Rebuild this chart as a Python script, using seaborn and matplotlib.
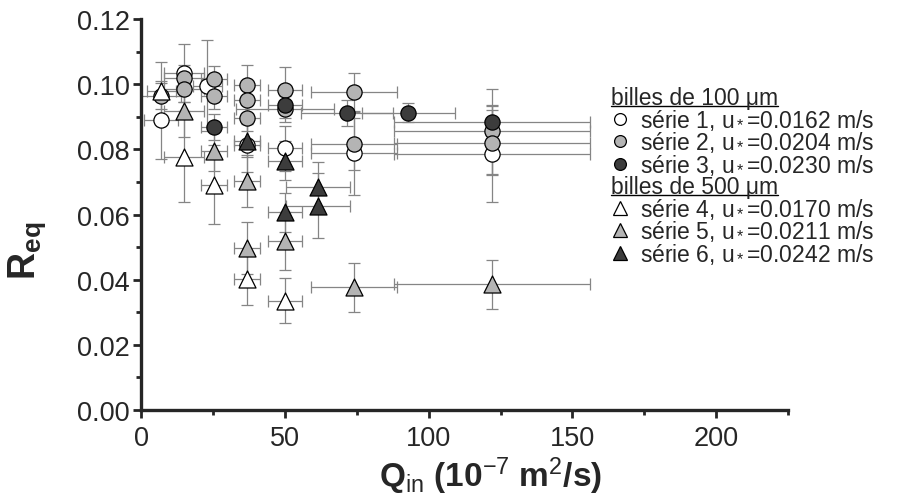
import numpy as np
import pandas as pd
import matplotlib
matplotlib.use("Agg")
import matplotlib.pyplot as plt
import seaborn as sns
from matplotlib.lines import Line2D

# serie 1-3 : billes de 100 um (cercles), serie 4-6 : billes de 500 um (triangles)
s1_q = [7, 15, 23, 37, 50, 74, 122]
s1_r = [0.089, 0.1035, 0.0995, 0.0812, 0.0803, 0.0789, 0.0787]
s1_xerr = [6, 7, 5, 4.5, 6, 15, 34]
s1_yerr = [0.012, 0.009, 0.014, 0.008, 0.007, 0.013, 0.0147]

s2_q = [7, 15, 15, 25.5, 25.5, 37, 37, 37, 50, 50, 74, 74, 122, 122]
s2_r = [0.0965, 0.102, 0.0986, 0.1017, 0.0965, 0.0999, 0.0953, 0.0897, 0.0983, 0.0925, 0.0975, 0.0817, 0.0855, 0.0821]
s2_xerr = [7, 7, 7, 4.5, 4.5, 4.5, 4.5, 4.5, 6, 17, 15, 15, 34, 34]
s2_yerr = [0.004, 0.004, 0.004, 0.004, 0.004, 0.006, 0.004, 0.004, 0.007, 0.004, 0.006, 0.008, 0.013, 0.010]

s3_q = [25.5, 50, 71.5, 93, 122]
s3_r = [0.0869, 0.0937, 0.0913, 0.0913, 0.0885]
s3_xerr = [4.5, 6, 16, 16, 34]
s3_yerr = [0.004, 0.004, 0.004, 0.003, 0.005]

s4_q = [7, 15, 25.5, 37, 50]
s4_r = [0.0978, 0.0778, 0.0692, 0.0401, 0.0336]
s4_xerr = [5, 7, 4.5, 4.5, 6]
s4_yerr = [0.009, 0.014, 0.012, 0.008, 0.007]

s5_q = [15, 25.5, 37, 37, 50, 74, 122]
s5_r = [0.0918, 0.0795, 0.0703, 0.0497, 0.0519, 0.0377, 0.0386]
s5_xerr = [7, 4.5, 4.5, 4.5, 6, 15, 34]
s5_yerr = [0.008, 0.006, 0.008, 0.008, 0.009, 0.0075, 0.0075]

s6_q = [37, 50, 50, 61.5, 61.5]
s6_r = [0.0827, 0.0765, 0.0607, 0.0685, 0.0627]
s6_xerr = [4.5, 6, 6, 11, 11]
s6_yerr = [0.005, 0.006, 0.006, 0.0075, 0.01]

labels = ["série 1, u$_*$=0.0162 m/s", "série 2, u$_*$=0.0204 m/s", "série 3, u$_*$=0.0230 m/s",
          "série 4, u$_*$=0.0170 m/s", "série 5, u$_*$=0.0211 m/s", "série 6, u$_*$=0.0242 m/s"]
headers = ["billes de 100 μm", "billes de 500 μm"]

sns.set_style("ticks")
plt.rcParams["font.family"] = ["Liberation Sans", "DejaVu Sans"]
plt.rcParams["mathtext.fontset"] = "custom"
plt.rcParams["mathtext.rm"] = "Liberation Sans"
plt.rcParams["mathtext.bf"] = "Liberation Sans:bold"
plt.rcParams["mathtext.it"] = "Liberation Sans:italic"

series = [
    (s1_q, s1_r, s1_xerr, s1_yerr, "o", "white"),
    (s2_q, s2_r, s2_xerr, s2_yerr, "o", "#b4b4b4"),
    (s3_q, s3_r, s3_xerr, s3_yerr, "o", "#3c3c3c"),
    (s4_q, s4_r, s4_xerr, s4_yerr, "^", "white"),
    (s5_q, s5_r, s5_xerr, s5_yerr, "^", "#b4b4b4"),
    (s6_q, s6_r, s6_xerr, s6_yerr, "^", "#3c3c3c"),
]

fig = plt.figure(figsize=(9.08, 5.02), dpi=100)
ax = fig.add_axes([0.1553, 0.1813, 0.7127, 0.7787])

for q, r, xe, ye, m, c in series:
    ax.errorbar(q, r, xerr=xe, yerr=ye, fmt="none", ecolor="#858585",
                elinewidth=0.9, capsize=4, capthick=0.9, zorder=1)

for i, (q, r, xe, ye, m, c) in enumerate(series):
    df = pd.DataFrame({"Q": q, "R": r})
    sns.scatterplot(data=df, x="Q", y="R", marker=m, color=c, edgecolor="black",
                    linewidth=0.9, s=120 if m == "o" else 150, ax=ax, zorder=3 + i)

ax.set_xlim(0, 225)
ax.set_ylim(0, 0.12)
ax.set_xticks([0, 50, 100, 150, 200])
ax.set_xticks([25, 75, 125, 175, 225], minor=True)
ax.set_yticks(np.arange(0, 0.121, 0.02))
ax.set_yticks(np.arange(0.01, 0.12, 0.02), minor=True)
ax.set_yticklabels([f"{v:.2f}" for v in np.arange(0, 0.121, 0.02)])
ax.tick_params(which="major", length=6, width=2, labelsize=19.5, direction="out", pad=2)
ax.tick_params(axis="x", which="major", pad=5)
ax.tick_params(which="minor", length=3.5, width=2, direction="out")
for side in ["top", "right"]:
    ax.spines[side].set_visible(False)
for side in ["left", "bottom"]:
    ax.spines[side].set_linewidth(2.4)

ax.set_xlabel(r"$\mathbf{Q}_{\mathrm{in}}$ $\mathbf{(10}^{\mathrm{-7}}$ $\mathbf{m}^{\mathrm{2}}\mathbf{/s)}$",
              fontsize=24)
ax.xaxis.set_label_coords(0.54, -0.113)
ax.xaxis.label.set_va("top")
ax.set_ylabel(r"$\mathbf{R}_{\mathbf{eq}}$", fontsize=27)
ax.yaxis.set_label_coords(-0.144, 0.41)

# legende : lignes d'en-tete vides remplacees ensuite par du texte souligne
handles = []
leg_labels = []
blank = Line2D([], [], linestyle="none", marker=None)
order = [None, 0, 1, 2, None, 3, 4, 5]
hi = 0
for o in order:
    if o is None:
        handles.append(blank)
        leg_labels.append(headers[hi])
        hi += 1
    else:
        q, r, xe, ye, m, c = series[o]
        handles.append(Line2D([], [], linestyle="none", marker=m, markerfacecolor=c,
                              markeredgecolor="black", markeredgewidth=0.9,
                              markersize=8.5 if m == "o" else 9.5))
        leg_labels.append(labels[o])

leg_fs = 16.5
leg = ax.legend(handles, leg_labels, loc="upper left", bbox_to_anchor=(0.6707, 0.826),
                bbox_transform=fig.transFigure, frameon=False, fontsize=leg_fs,
                handlelength=1.0, handletextpad=0.36, labelspacing=-0.07, borderpad=0,
                borderaxespad=0)

fig.canvas.draw()
inv = fig.transFigure.inverted()
texts = leg.get_texts()
for idx, t in enumerate(texts):
    if order[idx] is None:
        bb = t.get_window_extent()
        t.set_visible(False)
        x0, y0 = inv.transform((bb.x0 - 29, bb.y0))
        ht = fig.text(x0, y0, t.get_text(), fontsize=leg_fs, ha="left", va="bottom")
        fig.canvas.draw()
        tb = ht.get_window_extent()
        (ux0, uy), (ux1, _) = inv.transform([(tb.x0, tb.y0 + 3), (tb.x1, tb.y0 + 3)])
        fig.add_artist(Line2D([ux0, ux1], [uy, uy], color="black", linewidth=1.0,
                              transform=fig.transFigure))

fig.savefig("out.png", dpi=100)
